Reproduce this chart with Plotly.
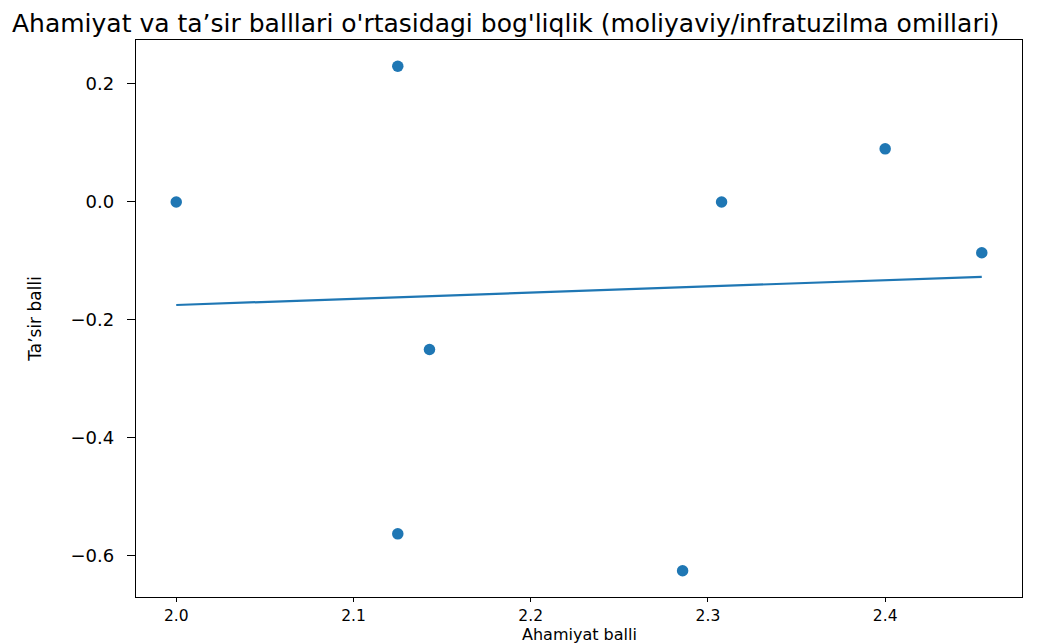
import numpy as np
import plotly.graph_objects as go

# Data
ahamiyat = [2.0, 2.125, 2.1429, 2.125, 2.2857, 2.3077, 2.4, 2.4545]
tasir = [0.0, 0.23, -0.25, -0.5625, -0.625, 0.0, 0.09, -0.086]

x_ticks = [2.0, 2.1, 2.2, 2.3, 2.4]
y_ticks = [0.2, 0.0, -0.2, -0.4, -0.6]

title_text = "Ahamiyat va ta\u2019sir balllari o'rtasidagi bog'liqlik (moliyaviy/infratuzilma omillari)"
x_title = "Ahamiyat balli"
y_title = "Ta\u2019sir balli"

xa = np.array(ahamiyat)
ya = np.array(tasir)
slope, intercept = np.polyfit(xa, ya, 1)
fit_y = slope * xa + intercept

blue = "#1f77b4"
font_family = "DejaVu Sans"

W, H = 1050, 644
OFF = 8  # page body margin offset

fig = go.Figure()
fig.add_trace(go.Scatter(
    x=ahamiyat, y=tasir, mode="markers",
    marker=dict(color=blue, size=11.5, line=dict(width=0)),
    showlegend=False,
))
fig.add_trace(go.Scatter(
    x=ahamiyat, y=fit_y.tolist(), mode="lines",
    line=dict(color=blue, width=2.2),
    showlegend=False,
))

axis_common = dict(
    showgrid=False, zeroline=False, showline=True, linecolor="black", linewidth=1.3,
    mirror=True, ticks="outside", tickcolor="black", tickwidth=1.2,
    automargin=False,
)

fig.update_layout(
    width=W, height=H,
    paper_bgcolor="white", plot_bgcolor="white",
    margin=dict(l=136 - OFF, r=W - (1022 - OFF), t=40 - OFF, b=H - (597 - OFF)),
    font=dict(family=font_family, color="black"),
    title=dict(text=title_text, x=(12 - OFF) / W, xanchor="left", xref="container",
               y=1 - (23 - OFF) / H, yanchor="middle", yref="container",
               font=dict(size=25, family=font_family, color="black")),
    xaxis=dict(range=[1.9773, 2.4772], tickvals=x_ticks,
               ticktext=[f"{v:.1f}" for v in x_ticks],
               tickfont=dict(size=15.5), ticklen=4, ticklabelstandoff=0,
               **axis_common),
    yaxis=dict(range=[-0.6695, 0.2745], tickvals=y_ticks,
               ticktext=[f"{v:.1f}".replace("-", "\u2212") for v in y_ticks],
               tickfont=dict(size=18), ticklen=8, ticklabelstandoff=9,
               title=dict(text=y_title, font=dict(size=17), standoff=24),
               **axis_common),
    annotations=[dict(text=x_title, xref="paper", x=0.5, xanchor="center",
                      yref="paper", y=0, yanchor="middle", yshift=-37,
                      showarrow=False, font=dict(size=16, family=font_family, color="black"))],
)

fig.write_html("out.html")
